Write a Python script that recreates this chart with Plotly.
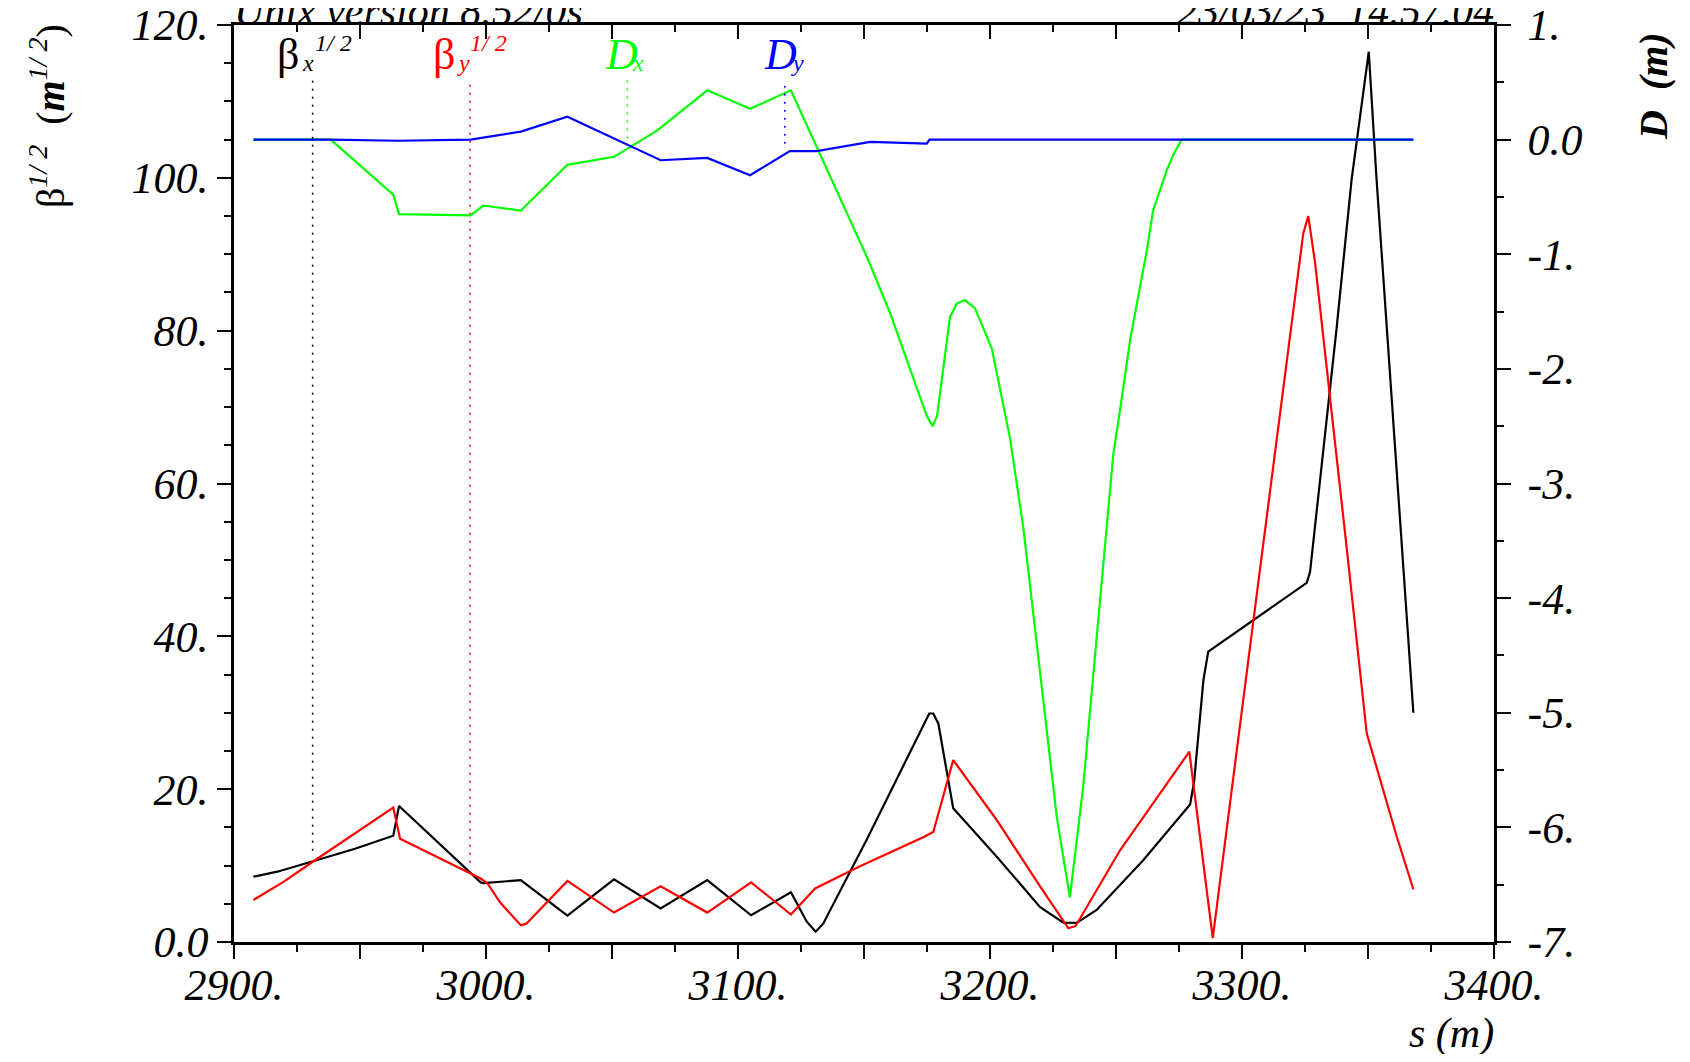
import numpy as np
import plotly.graph_objects as go

# beta_x^1/2 (black), left axis
s_bx = [2907.7, 2917.2, 2931.7, 2948.0, 2963.2, 2965.5, 2997.9, 2999.0, 3013.8, 3032.3,
        3050.8, 3069.3, 3087.8, 3105.2, 3121.0, 3127.3, 3130.8, 3133.8, 3151.0, 3175.9,
        3177.5, 3179.5, 3185.4, 3202.6, 3219.8, 3229.1, 3234.4, 3242.3, 3260.8, 3279.4,
        3281.0, 3284.7, 3286.6, 3325.7, 3327.0, 3337.6, 3343.5, 3350.3, 3353.4, 3368.0]
bx = [8.55, 9.2, 10.6, 12.2, 13.9, 17.8, 7.8, 7.7, 8.1, 3.45,
      8.2, 4.4, 8.1, 3.5, 6.5, 2.66, 1.35, 2.4, 13.35, 29.9,
      29.9, 28.6, 17.5, 11.2, 4.6, 2.53, 2.5, 4.2, 10.7, 18.0,
      21.0, 34.3, 38.0, 47.0, 48.4, 80.5, 99.8, 116.5, 99.8, 30.0]

# beta_y^1/2 (red), left axis
s_by = [2907.7, 2919.8, 2931.7, 2963.2, 2965.9, 2997.9, 3000.5, 3005.8, 3013.8, 3016.0,
        3032.3, 3050.8, 3069.3, 3087.8, 3105.2, 3121.0, 3130.6, 3148.4, 3173.5, 3177.5,
        3185.4, 3202.6, 3219.8, 3231.1, 3234.0, 3251.6, 3279.1, 3288.4, 3304.5, 3324.3,
        3326.3, 3329.0, 3341.5, 3349.5, 3361.4, 3368.0]
by = [5.5, 7.9, 10.6, 17.6, 13.5, 8.3, 7.7, 5.1, 2.2, 2.4,
      8.0, 3.85, 7.3, 3.85, 7.8, 3.6, 7.0, 9.9, 13.7, 14.4,
      23.8, 16.0, 7.3, 1.8, 2.1, 12.0, 24.9, 0.5, 42.0, 92.7,
      95.0, 88.9, 51.7, 27.3, 13.8, 6.9]

# D_x (green), right axis
s_dx = [2907.7, 2938.4, 2963.2, 2965.5, 2993.9, 2998.9, 3013.8, 3032.3, 3050.8, 3068.0,
        3087.8, 3104.8, 3121.0, 3151.7, 3160.3, 3174.9, 3177.2, 3179.0, 3184.1, 3186.8,
        3190.0, 3194.0, 3200.7, 3207.9, 3213.2, 3219.8, 3226.5, 3231.7, 3237.0, 3242.3,
        3248.9, 3252.0, 3255.6, 3262.2, 3264.7, 3270.1, 3272.8, 3276.0, 3368.0]
dx = [0.0, 0.0, -0.48, -0.65, -0.66, -0.575, -0.62, -0.22, -0.15, 0.08,
      0.43, 0.27, 0.43, -1.05, -1.51, -2.41, -2.50, -2.41, -1.55, -1.43,
      -1.40, -1.47, -1.82, -2.60, -3.38, -4.66, -5.91, -6.61, -5.64, -4.35,
      -2.75, -2.30, -1.75, -0.97, -0.62, -0.27, -0.13, 0.0, 0.0]

# D_y (blue), right axis
s_dy = [2907.7, 2938.0, 2965.0, 2993.9, 3013.8, 3032.3, 3069.3, 3087.8, 3104.8, 3120.6,
        3131.2, 3152.4, 3174.9, 3176.0, 3368.0]
dy = [0.0, 0.0, -0.01, 0.0, 0.07, 0.20, -0.18, -0.16, -0.31, -0.10,
      -0.10, -0.02, -0.035, 0.0, 0.0]

# label markers along s
lab_s = [2931.2, 2993.7, 3056.1, 3118.6]

x_ticks = list(range(2900, 3401, 50))
x_text = ["%d." % v if v % 100 == 0 else "" for v in x_ticks]
yl_ticks = [0, 20, 40, 60, 80, 100, 120]
yl_text = ["0.0", "20.", "40.", "60.", "80.", "100.", "120."]
yr_ticks = [-7, -6, -5, -4, -3, -2, -1, 0, 1]
yr_text = ["-7.", "-6.", "-5.", "-4.", "-3.", "-2.", "-1.", "0.0", "1."]

FONT = "Liberation Serif"
FS = 44

fig = go.Figure()
fig.add_trace(go.Scatter(x=s_bx, y=bx, mode="lines", line=dict(color="black", width=2.2)))
fig.add_trace(go.Scatter(x=s_by, y=by, mode="lines", line=dict(color="red", width=2.2)))
fig.add_trace(go.Scatter(x=s_dx, y=dx, mode="lines", line=dict(color="#00ff00", width=2.2), yaxis="y2"))
fig.add_trace(go.Scatter(x=s_dy, y=dy, mode="lines", line=dict(color="blue", width=2.2), yaxis="y2"))

# dotted leader lines from labels down to the curves
top_l, top_r = 112.8, 0.52
gap_l, gap_r = 1.4, 0.09
fig.add_trace(go.Scatter(x=[lab_s[0]] * 2, y=[np.interp(lab_s[0], s_bx, bx) + gap_l, top_l], mode="lines",
                         line=dict(color="black", width=1.5, dash="2px,6px"), xaxis="x2"))
fig.add_trace(go.Scatter(x=[lab_s[1]] * 2, y=[np.interp(lab_s[1], s_by, by) + gap_l, top_l], mode="lines",
                         line=dict(color="red", width=1.5, dash="2px,6px")))
fig.add_trace(go.Scatter(x=[lab_s[2]] * 2, y=[np.interp(lab_s[2], s_dx, dx) + gap_r, top_r], mode="lines",
                         line=dict(color="#00ff00", width=1.5, dash="2px,6px"), yaxis="y2"))
fig.add_trace(go.Scatter(x=[lab_s[3]] * 2, y=[np.interp(lab_s[3], s_dy, dy) + gap_r, top_r], mode="lines",
                         line=dict(color="blue", width=1.5, dash="2px,6px"), yaxis="y2"))

tick_font = dict(family=FONT, size=FS, style="italic", color="black")
axis_common = dict(showgrid=False, zeroline=False, showline=True, linecolor="black", linewidth=2.5,
                   tickcolor="black", tickwidth=2, ticklen=14, automargin=False)

def minor(t0, step, side):
    return dict(tickmode="linear", tick0=t0, dtick=step, ticks=side, ticklen=7,
                tickwidth=2, tickcolor="black")

# page body has an 8px margin, so the figure is 16px smaller than the window
fig.update_layout(
    width=1674, height=1046,
    margin=dict(l=226, r=188, t=17, b=112),
    paper_bgcolor="white", plot_bgcolor="white",
    showlegend=False,
    xaxis=dict(range=[2900, 3400], ticks="outside", tickmode="array", tickvals=x_ticks, ticktext=x_text,
               tickfont=tick_font, ticklabelstandoff=-12, ticklabeloverflow="allow",
               minor=minor(2900, 25, "outside"), **axis_common),
    xaxis2=dict(range=[2900, 3400], overlaying="x", side="top", anchor="y", ticks="inside",
                tickmode="array", tickvals=x_ticks, showticklabels=False,
                minor=minor(2900, 25, "inside"), **axis_common),
    yaxis=dict(range=[0, 120], ticks="outside", tickmode="array", tickvals=yl_ticks, ticktext=yl_text,
               tickfont=tick_font, ticklabeloverflow="allow", minor=minor(0, 5, "outside"), **axis_common),
    yaxis2=dict(range=[-7, 1], overlaying="y", side="right", anchor="x", ticks="outside",
                tickmode="array", tickvals=yr_ticks, ticktext=yr_text, tickfont=tick_font,
                ticklabelstandoff=8, ticklabeloverflow="allow",
                minor=minor(-7, 0.5, "outside"), **axis_common),
)

def txt(text, x, y, size=FS, xref="paper", xanchor="left", xshift=0, angle=0, color="black"):
    fig.add_annotation(text=text, x=x, y=y, xref=xref, yref="paper", xanchor=xanchor,
                       yanchor="middle", xshift=xshift, textangle=angle, showarrow=False,
                       font=dict(family=FONT, size=size, color=color))

# header
txt("<i>Unix version 8.52/0s</i>", 0.0, 1.0155, size=42, xshift=-2)
txt("<i>23/03/23  14.57.04</i>", 1.0, 1.0155, size=42, xanchor="right", xshift=2)

# axis titles
txt("β<sup><i>1/ 2</i></sup>  (<b><i>m</i></b><sup><i>1/ 2</i></sup>)", -0.1476, 0.9008, size=40,
    xanchor="center", angle=-90)
txt("<b><i>D  (m)</i></b>", 1.1270, 0.9335, size=40, xanchor="center", angle=-90)
txt("<i>s (m)</i>", 1.0, -0.1003, size=42, xanchor="right", xshift=2)

# curve labels
labels = [("β", "x", "1/ 2", "black", -37.6, -12.6, 0.4),
          ("β", "y", "1/ 2", "red", -39, -15, -2),
          ("<i>D</i>", "x", "", "#00ff00", -24, 3, 0),
          ("<i>D</i>", "y", "", "blue", -23, 4, 0)]
for s, (main, sub, sup, col, dm, ds, dp) in zip(lab_s, labels):
    txt(main, s, 0.9680, size=FS, xref="x", xshift=dm, color=col)
    txt("<i>%s</i>" % sub, s, 0.9590, size=24, xref="x", xshift=ds, color=col)
    if sup:
        txt("<i>%s</i>" % sup, s, 0.9805, size=24, xref="x", xshift=dp, color=col)

fig.write_html("out.html")
